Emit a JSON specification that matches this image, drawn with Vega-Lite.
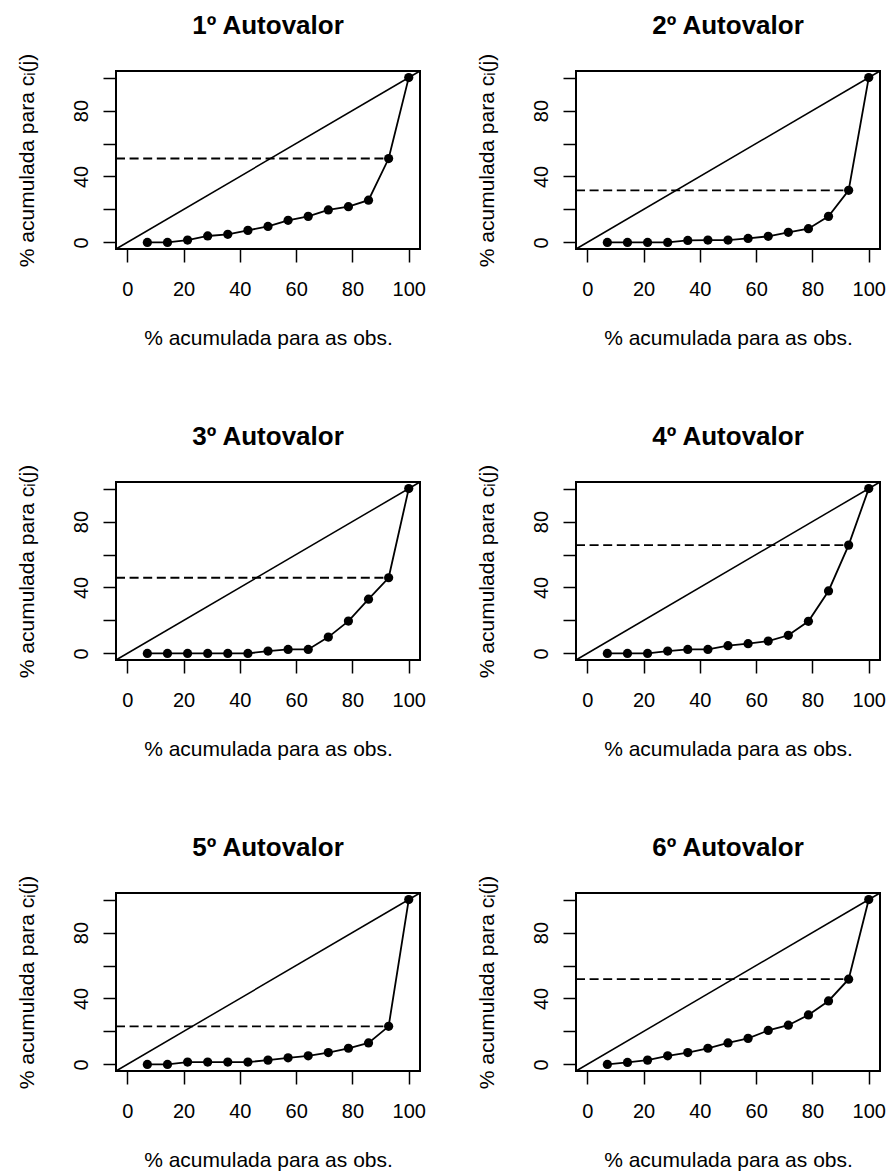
{
"$schema": "https://vega.github.io/schema/vega-lite/v6.json",
"background": "white",
"padding": {"left": 15, "top": 12, "right": 0, "bottom": 0},
"columns": 2,
"spacing": {"row": 233, "column": 156},
"bounds": "flush",
"datasets": {
"p1": [
{"kind":"curve","x":7.14,"y":0},{"kind":"curve","x":14.29,"y":0},{"kind":"curve","x":21.43,"y":1.4},{"kind":"curve","x":28.57,"y":3.9},{"kind":"curve","x":35.71,"y":4.9},{"kind":"curve","x":42.86,"y":7.3},{"kind":"curve","x":50,"y":9.7},{"kind":"curve","x":57.14,"y":13.4},{"kind":"curve","x":64.29,"y":15.8},{"kind":"curve","x":71.43,"y":19.7},{"kind":"curve","x":78.57,"y":21.7},{"kind":"curve","x":85.71,"y":25.6},{"kind":"curve","x":92.86,"y":50.9},{"kind":"curve","x":100,"y":100},
{"kind":"diag","x":-4,"y":-4},{"kind":"diag","x":104,"y":104},
{"kind":"ref","x":-4,"x2":92.86,"y":50.9}],
"p2": [
{"kind":"curve","x":7.14,"y":0},{"kind":"curve","x":14.29,"y":0},{"kind":"curve","x":21.43,"y":0},{"kind":"curve","x":28.57,"y":0},{"kind":"curve","x":35.71,"y":1.2},{"kind":"curve","x":42.86,"y":1.4},{"kind":"curve","x":50,"y":1.4},{"kind":"curve","x":57.14,"y":2.4},{"kind":"curve","x":64.29,"y":3.7},{"kind":"curve","x":71.43,"y":6.1},{"kind":"curve","x":78.57,"y":8.3},{"kind":"curve","x":85.71,"y":15.8},{"kind":"curve","x":92.86,"y":31.6},{"kind":"curve","x":100,"y":100},
{"kind":"diag","x":-4,"y":-4},{"kind":"diag","x":104,"y":104},
{"kind":"ref","x":-4,"x2":92.86,"y":31.6}],
"p3": [
{"kind":"curve","x":7.14,"y":0},{"kind":"curve","x":14.29,"y":0},{"kind":"curve","x":21.43,"y":0},{"kind":"curve","x":28.57,"y":0},{"kind":"curve","x":35.71,"y":0},{"kind":"curve","x":42.86,"y":0},{"kind":"curve","x":50,"y":1.4},{"kind":"curve","x":57.14,"y":2.4},{"kind":"curve","x":64.29,"y":2.4},{"kind":"curve","x":71.43,"y":9.9},{"kind":"curve","x":78.57,"y":19.6},{"kind":"curve","x":85.71,"y":32.9},{"kind":"curve","x":92.86,"y":45.9},{"kind":"curve","x":100,"y":100},
{"kind":"diag","x":-4,"y":-4},{"kind":"diag","x":104,"y":104},
{"kind":"ref","x":-4,"x2":92.86,"y":45.9}],
"p4": [
{"kind":"curve","x":7.14,"y":0},{"kind":"curve","x":14.29,"y":0},{"kind":"curve","x":21.43,"y":0},{"kind":"curve","x":28.57,"y":1.4},{"kind":"curve","x":35.71,"y":2.4},{"kind":"curve","x":42.86,"y":2.4},{"kind":"curve","x":50,"y":4.7},{"kind":"curve","x":57.14,"y":5.9},{"kind":"curve","x":64.29,"y":7.5},{"kind":"curve","x":71.43,"y":11},{"kind":"curve","x":78.57,"y":19.5},{"kind":"curve","x":85.71,"y":37.9},{"kind":"curve","x":92.86,"y":65.7},{"kind":"curve","x":100,"y":100},
{"kind":"diag","x":-4,"y":-4},{"kind":"diag","x":104,"y":104},
{"kind":"ref","x":-4,"x2":92.86,"y":65.7}],
"p5": [
{"kind":"curve","x":7.14,"y":0},{"kind":"curve","x":14.29,"y":0},{"kind":"curve","x":21.43,"y":1.4},{"kind":"curve","x":28.57,"y":1.4},{"kind":"curve","x":35.71,"y":1.4},{"kind":"curve","x":42.86,"y":1.4},{"kind":"curve","x":50,"y":2.6},{"kind":"curve","x":57.14,"y":4},{"kind":"curve","x":64.29,"y":5.2},{"kind":"curve","x":71.43,"y":7.2},{"kind":"curve","x":78.57,"y":9.8},{"kind":"curve","x":85.71,"y":13},{"kind":"curve","x":92.86,"y":23.1},{"kind":"curve","x":100,"y":100},
{"kind":"diag","x":-4,"y":-4},{"kind":"diag","x":104,"y":104},
{"kind":"ref","x":-4,"x2":92.86,"y":23.1}],
"p6": [
{"kind":"curve","x":7.14,"y":0},{"kind":"curve","x":14.29,"y":1.2},{"kind":"curve","x":21.43,"y":2.6},{"kind":"curve","x":28.57,"y":5.2},{"kind":"curve","x":35.71,"y":7.2},{"kind":"curve","x":42.86,"y":9.8},{"kind":"curve","x":50,"y":13},{"kind":"curve","x":57.14,"y":15.8},{"kind":"curve","x":64.29,"y":20.6},{"kind":"curve","x":71.43,"y":23.8},{"kind":"curve","x":78.57,"y":30},{"kind":"curve","x":85.71,"y":38.5},{"kind":"curve","x":92.86,"y":51.7},{"kind":"curve","x":100,"y":100},
{"kind":"diag","x":-4,"y":-4},{"kind":"diag","x":104,"y":104},
{"kind":"ref","x":-4,"x2":92.86,"y":51.7}]
},
"concat": [
{"title":"1º Autovalor","data":{"name":"p1"},"width":304,"height":178,
"encoding":{"x":{"field":"x","type":"quantitative","scale":{"domain":[-4,104],"nice":false,"zero":false},"axis":{"values":[0,20,40,60,80,100],"title":"% acumulada para as obs."}},"y":{"field":"y","type":"quantitative","scale":{"domain":[-4,104],"nice":false,"zero":false},"axis":{"values":[0,20,40,60,80,100],"title":"% acumulada para cᵢ(j)","labelExpr":"datum.value % 40 === 0 ? datum.label : ''"}}},
"layer":[
{"transform":[{"filter":"datum.kind === 'diag'"}],"mark":{"type":"line","color":"black","strokeWidth":1.5}},
{"transform":[{"filter":"datum.kind === 'ref'"}],"mark":{"type":"rule","color":"black","strokeWidth":1.8,"strokeDash":[9,4.6]},"encoding":{"x2":{"field":"x2"}}},
{"transform":[{"filter":"datum.kind === 'curve'"}],"mark":{"type":"line","color":"black","strokeWidth":1.8,"point":{"filled":true,"size":85,"color":"black","opacity":1}}}
]},
{"title":"2º Autovalor","data":{"name":"p2"},"width":304,"height":178,
"encoding":{"x":{"field":"x","type":"quantitative","scale":{"domain":[-4,104],"nice":false,"zero":false},"axis":{"values":[0,20,40,60,80,100],"title":"% acumulada para as obs."}},"y":{"field":"y","type":"quantitative","scale":{"domain":[-4,104],"nice":false,"zero":false},"axis":{"values":[0,20,40,60,80,100],"title":"% acumulada para cᵢ(j)","labelExpr":"datum.value % 40 === 0 ? datum.label : ''"}}},
"layer":[
{"transform":[{"filter":"datum.kind === 'diag'"}],"mark":{"type":"line","color":"black","strokeWidth":1.5}},
{"transform":[{"filter":"datum.kind === 'ref'"}],"mark":{"type":"rule","color":"black","strokeWidth":1.8,"strokeDash":[9,4.6]},"encoding":{"x2":{"field":"x2"}}},
{"transform":[{"filter":"datum.kind === 'curve'"}],"mark":{"type":"line","color":"black","strokeWidth":1.8,"point":{"filled":true,"size":85,"color":"black","opacity":1}}}
]},
{"title":"3º Autovalor","data":{"name":"p3"},"width":304,"height":178,
"encoding":{"x":{"field":"x","type":"quantitative","scale":{"domain":[-4,104],"nice":false,"zero":false},"axis":{"values":[0,20,40,60,80,100],"title":"% acumulada para as obs."}},"y":{"field":"y","type":"quantitative","scale":{"domain":[-4,104],"nice":false,"zero":false},"axis":{"values":[0,20,40,60,80,100],"title":"% acumulada para cᵢ(j)","labelExpr":"datum.value % 40 === 0 ? datum.label : ''"}}},
"layer":[
{"transform":[{"filter":"datum.kind === 'diag'"}],"mark":{"type":"line","color":"black","strokeWidth":1.5}},
{"transform":[{"filter":"datum.kind === 'ref'"}],"mark":{"type":"rule","color":"black","strokeWidth":1.8,"strokeDash":[9,4.6]},"encoding":{"x2":{"field":"x2"}}},
{"transform":[{"filter":"datum.kind === 'curve'"}],"mark":{"type":"line","color":"black","strokeWidth":1.8,"point":{"filled":true,"size":85,"color":"black","opacity":1}}}
]},
{"title":"4º Autovalor","data":{"name":"p4"},"width":304,"height":178,
"encoding":{"x":{"field":"x","type":"quantitative","scale":{"domain":[-4,104],"nice":false,"zero":false},"axis":{"values":[0,20,40,60,80,100],"title":"% acumulada para as obs."}},"y":{"field":"y","type":"quantitative","scale":{"domain":[-4,104],"nice":false,"zero":false},"axis":{"values":[0,20,40,60,80,100],"title":"% acumulada para cᵢ(j)","labelExpr":"datum.value % 40 === 0 ? datum.label : ''"}}},
"layer":[
{"transform":[{"filter":"datum.kind === 'diag'"}],"mark":{"type":"line","color":"black","strokeWidth":1.5}},
{"transform":[{"filter":"datum.kind === 'ref'"}],"mark":{"type":"rule","color":"black","strokeWidth":1.8,"strokeDash":[9,4.6]},"encoding":{"x2":{"field":"x2"}}},
{"transform":[{"filter":"datum.kind === 'curve'"}],"mark":{"type":"line","color":"black","strokeWidth":1.8,"point":{"filled":true,"size":85,"color":"black","opacity":1}}}
]},
{"title":"5º Autovalor","data":{"name":"p5"},"width":304,"height":178,
"encoding":{"x":{"field":"x","type":"quantitative","scale":{"domain":[-4,104],"nice":false,"zero":false},"axis":{"values":[0,20,40,60,80,100],"title":"% acumulada para as obs."}},"y":{"field":"y","type":"quantitative","scale":{"domain":[-4,104],"nice":false,"zero":false},"axis":{"values":[0,20,40,60,80,100],"title":"% acumulada para cᵢ(j)","labelExpr":"datum.value % 40 === 0 ? datum.label : ''"}}},
"layer":[
{"transform":[{"filter":"datum.kind === 'diag'"}],"mark":{"type":"line","color":"black","strokeWidth":1.5}},
{"transform":[{"filter":"datum.kind === 'ref'"}],"mark":{"type":"rule","color":"black","strokeWidth":1.8,"strokeDash":[9,4.6]},"encoding":{"x2":{"field":"x2"}}},
{"transform":[{"filter":"datum.kind === 'curve'"}],"mark":{"type":"line","color":"black","strokeWidth":1.8,"point":{"filled":true,"size":85,"color":"black","opacity":1}}}
]},
{"title":"6º Autovalor","data":{"name":"p6"},"width":304,"height":178,
"encoding":{"x":{"field":"x","type":"quantitative","scale":{"domain":[-4,104],"nice":false,"zero":false},"axis":{"values":[0,20,40,60,80,100],"title":"% acumulada para as obs."}},"y":{"field":"y","type":"quantitative","scale":{"domain":[-4,104],"nice":false,"zero":false},"axis":{"values":[0,20,40,60,80,100],"title":"% acumulada para cᵢ(j)","labelExpr":"datum.value % 40 === 0 ? datum.label : ''"}}},
"layer":[
{"transform":[{"filter":"datum.kind === 'diag'"}],"mark":{"type":"line","color":"black","strokeWidth":1.5}},
{"transform":[{"filter":"datum.kind === 'ref'"}],"mark":{"type":"rule","color":"black","strokeWidth":1.8,"strokeDash":[9,4.6]},"encoding":{"x2":{"field":"x2"}}},
{"transform":[{"filter":"datum.kind === 'curve'"}],"mark":{"type":"line","color":"black","strokeWidth":1.8,"point":{"filled":true,"size":85,"color":"black","opacity":1}}}
]}
],
"config": {
"font": "Liberation Sans",
"view": {"stroke": "black", "strokeWidth": 2},
"axis": {"domain": false, "grid": false, "tickColor": "black", "tickWidth": 1.5, "tickSize": 13, "labelFont": "Liberation Sans", "labelFontSize": 20, "labelColor": "black", "labelFlush": false, "labelOverlap": false, "labelBound": false, "titleFont": "Liberation Sans", "titleFontSize": 21, "titleFontWeight": "normal", "titleColor": "black"},
"axisX": {"labelPadding": 17, "titlePadding": 28, "labelAngle": 0},
"axisY": {"labelAngle": -90, "labelAlign": "center", "labelBaseline": "bottom", "labelPadding": 12, "titlePadding": 34},
"title": {"font": "Liberation Sans", "fontSize": 26, "fontWeight": "bold", "color": "black", "anchor": "middle", "baseline": "alphabetic", "offset": 14}
}
}
